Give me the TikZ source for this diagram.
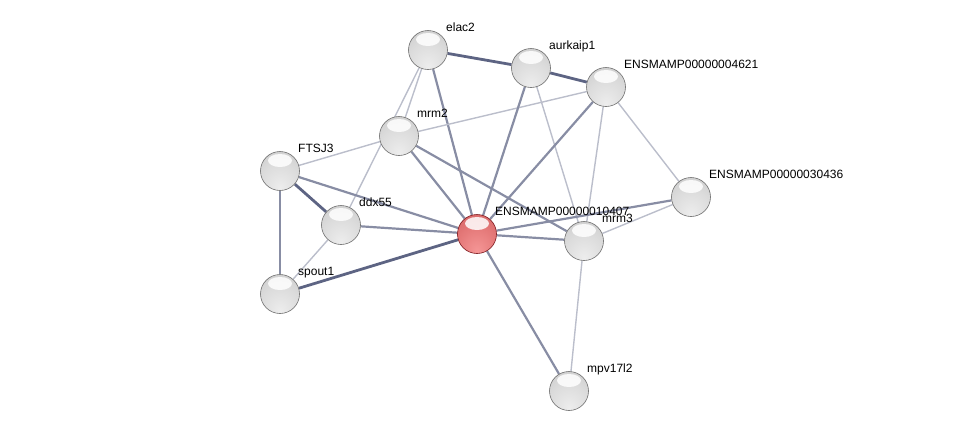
\documentclass[tikz,border=0pt]{standalone}
\usepackage{fontspec}
\setsansfont{Liberation Sans}
\usetikzlibrary{backgrounds}
\definecolor{edgecol}{RGB}{85,92,125}
\definecolor{rimgray}{RGB}{110,110,110}
\definecolor{rimred}{RGB}{125,25,30}

\pgfdeclareradialshading{graysphere}{\pgfpoint{0bp}{-22bp}}{%
    color(0bp)=(white!93!black); color(25bp)=(white!86!black); color(45bp)=(white!79!black);
    color(60bp)=(white!72!black); color(80bp)=(white!62!black)}
\pgfdeclareradialshading{redsphere}{\pgfpoint{0bp}{-22bp}}{%
    color(0bp)=(rgb,255:red,245;green,150;blue,150); color(25bp)=(rgb,255:red,228;green,120;blue,120);
    color(45bp)=(rgb,255:red,210;green,98;blue,98); color(60bp)=(rgb,255:red,190;green,78;blue,78);
    color(80bp)=(rgb,255:red,160;green,50;blue,50)}

\tikzset{
    prot/.style={circle, minimum size=39pt, inner sep=0pt, shading=graysphere, draw=rimgray, line width=0.6pt,
        path picture={\fill[white, opacity=0.85] ([yshift=-9pt]path picture bounding box.north) ellipse (12pt and 6.5pt);}},
    query/.style={prot, shading=redsphere, draw=rimred},
    lbl/.style={anchor=base west, inner sep=0pt, xshift=18pt, yshift=18.5pt, font=\sffamily\fontsize{12}{13}\selectfont},
    lnkweak/.style={draw=edgecol!40, line width=1.4pt},
    lnkmid/.style={draw=edgecol!70, line width=2.2pt},
    lnkstrong/.style={draw=edgecol!95, line width=2.8pt},
}

\begin{document}
\begin{tikzpicture}[x=1pt, y=-1pt]
    \useasboundingbox (0,0) rectangle (976,437);
    % proteins
    \node[prot] (elac2) at (428,50) {};
    \node[prot] (aurkaip1) at (531,68) {};
    \node[prot] (e4621) at (606,87) {};
    \node[prot] (mrm2) at (399,136) {};
    \node[prot] (ftsj3) at (280,171) {};
    \node[prot] (ddx55) at (341,225) {};
    \node[prot] (e30436) at (691,197) {};
    \node[prot] (spout1) at (280,294) {};
    \node[prot] (mpv17l2) at (569,391) {};
    \node[query] (e10407) at (477,234) {};
    \node[prot] (mrm3) at (584,241) {};

    % names
    \node[lbl] (elac2-t) at (elac2) {elac2};
    \node[lbl] (aurkaip1-t) at (aurkaip1) {aurkaip1};
    \node[lbl] (e4621-t) at (e4621) {ENSMAMP00000004621};
    \node[lbl] (mrm2-t) at (mrm2) {mrm2};
    \node[lbl] (ftsj3-t) at (ftsj3) {FTSJ3};
    \node[lbl] (ddx55-t) at (ddx55) {ddx55};
    \node[lbl] (e30436-t) at (e30436) {ENSMAMP00000030436};
    \node[lbl] (spout1-t) at (spout1) {spout1};
    \node[lbl] (mpv17l2-t) at (mpv17l2) {mpv17l2};
    \node[lbl] (e10407-t) at (e10407) {ENSMAMP00000010407};
    \node[lbl] (mrm3-t) at (mrm3) {mrm3};

    % interactions
    \begin{scope}[on background layer]
        \draw[lnkstrong] (elac2) -- (aurkaip1);
        \draw[lnkstrong] (aurkaip1) -- (e4621);
        \draw[lnkweak] (elac2) -- (mrm2);
        \draw[lnkweak] (elac2) -- (ddx55);
        \draw[lnkmid] (elac2) -- (e10407);
        \draw[lnkweak] (mrm2) -- (e4621);
        \draw[lnkweak] (mrm2) -- (ftsj3);
        \draw[lnkmid] (mrm2) -- (e10407);
        \draw[lnkmid] (mrm2) -- (mrm3);
        \draw[lnkmid] (aurkaip1) -- (e10407);
        \draw[lnkweak] (aurkaip1) -- (mrm3);
        \draw[lnkmid] (e4621) -- (e10407);
        \draw[lnkweak] (e4621) -- (mrm3);
        \draw[lnkweak] (e4621) -- (e30436);
        \draw[lnkstrong] (ftsj3) -- (ddx55);
        \draw[lnkmid] (ftsj3) -- (e10407);
        \draw[lnkmid] (ftsj3) -- (spout1);
        \draw[lnkmid] (ddx55) -- (e10407);
        \draw[lnkweak] (ddx55) -- (spout1);
        \draw[lnkstrong] (spout1) -- (e10407);
        \draw[lnkmid] (e10407) -- (mrm3);
        \draw[lnkmid] (e10407) -- (e30436);
        \draw[lnkweak] (mrm3) -- (e30436);
        \draw[lnkmid] (e10407) -- (mpv17l2);
        \draw[lnkweak] (mrm3) -- (mpv17l2);
    \end{scope}
\end{tikzpicture}
\end{document}
